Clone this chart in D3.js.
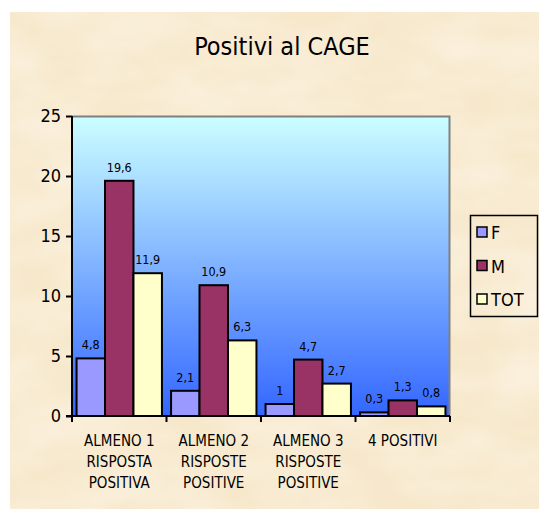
<!DOCTYPE html>
<html>
<head>
<meta charset="utf-8">
<script src="https://cdn.jsdelivr.net/npm/d3@7"></script>
<style>
  body { margin: 0; background: #fff; }
  svg text { font-family: "DejaVu Sans", Verdana, sans-serif; font-stretch: condensed; fill: #000; }
</style>
</head>
<body>
<div id="chart"></div>
<script>
// data
const categories = [
  ["ALMENO 1", "RISPOSTA", "POSITIVA"],
  ["ALMENO 2", "RISPOSTE", "POSITIVE"],
  ["ALMENO 3", "RISPOSTE", "POSITIVE"],
  ["4 POSITIVI"]
];
const seriesNames = ["F", "M", "TOT"];
const valuesF = [4.8, 2.1, 1, 0.3];
const valuesM = [19.6, 10.9, 4.7, 1.3];
const valuesTOT = [11.9, 6.3, 2.7, 0.8];
const yTicks = [0, 5, 10, 15, 20, 25];
const colors = ["#9999ff", "#993366", "#ffffcc"];

const allValues = [valuesF, valuesM, valuesTOT];
const W = 539, H = 509;
const margin = { top: 116, right: 89, bottom: 93, left: 72 };
const width = W - margin.left - margin.right;
const height = H - margin.top - margin.bottom;

const svg = d3.select("#chart").append("svg")
  .attr("width", W)
  .attr("height", H);

const defs = svg.append("defs");

// parchment-ish texture
const filt = defs.append("filter").attr("id", "paper").attr("x", 0).attr("y", 0).attr("width", 1).attr("height", 1);
filt.append("feTurbulence").attr("type", "fractalNoise").attr("baseFrequency", "0.012 0.025").attr("numOctaves", 3).attr("seed", 7).attr("result", "noise");
filt.append("feColorMatrix").attr("in", "noise").attr("type", "matrix")
  .attr("values", "0 0 0 0 1  0 0 0 0 0.97  0 0 0 0 0.9  0 0 0 0.7 -0.2")
  .attr("result", "tint");
filt.append("feComposite").attr("in", "tint").attr("in2", "SourceGraphic").attr("operator", "atop");

const grad = defs.append("linearGradient").attr("id", "plotbg")
  .attr("x1", 0).attr("y1", 0).attr("x2", 0).attr("y2", 1);
grad.append("stop").attr("offset", "0%").attr("stop-color", "#ccffff");
grad.append("stop").attr("offset", "100%").attr("stop-color", "#3366ff");

svg.append("rect")
  .attr("x", 10).attr("y", 12)
  .attr("width", W - 10).attr("height", H - 12)
  .attr("fill", "#f7e8cb")
  .attr("filter", "url(#paper)");

svg.append("text")
  .attr("x", 282).attr("y", 55)
  .attr("text-anchor", "middle")
  .style("font-size", "25px")
  .text("Positivi al CAGE");

const g = svg.append("g").attr("transform", `translate(${margin.left},${margin.top})`);

const x0 = d3.scaleBand().domain(d3.range(categories.length)).range([0, width]).padding(0);
const x1 = d3.scaleBand().domain(d3.range(seriesNames.length)).range([0, x0.bandwidth()])
  .paddingInner(0).paddingOuter(0.16);
const y = d3.scaleLinear().domain([0, 25]).range([height, 0]);

g.append("rect")
  .attr("width", width).attr("height", height)
  .attr("fill", "url(#plotbg)");
g.append("path")
  .attr("d", `M0,0.5H${width - 0.5}V${height}`)
  .attr("fill", "none").attr("stroke", "#808080").attr("stroke-width", 2);

const groups = g.selectAll(".grp")
  .data(categories)
  .join("g")
  .attr("transform", (d, i) => `translate(${x0(i)},0)`);

groups.selectAll("rect")
  .data((d, i) => allValues.map((vals, s) => ({ s, v: vals[i] })))
  .join("rect")
  .attr("x", d => x1(d.s))
  .attr("y", d => y(d.v))
  .attr("width", x1.bandwidth())
  .attr("height", d => height - y(d.v))
  .attr("fill", d => colors[d.s])
  .attr("stroke", "#000")
  .attr("stroke-width", 2);

groups.selectAll(".lbl")
  .data((d, i) => allValues.map((vals, s) => ({ s, v: vals[i] })))
  .join("text")
  .attr("class", "lbl")
  .attr("x", d => x1(d.s) + x1.bandwidth() / 2)
  .attr("y", d => y(d.v) - 9)
  .attr("text-anchor", "middle")
  .style("font-size", "12.5px")
  .text(d => String(d.v).replace(".", ","));

// y axis
const yAxis = g.append("g")
  .call(d3.axisLeft(y).tickValues(yTicks).tickSize(6).tickPadding(5));
yAxis.selectAll("path, line").attr("stroke", "#000").attr("stroke-width", 2);
yAxis.select(".domain").attr("d", `M0,0V${height}`);
yAxis.selectAll("text").style("font-size", "18px").attr("fill", "#000");

// x axis with ticks at group boundaries
const xb = g.append("g").attr("transform", `translate(0,${height})`);
xb.append("line").attr("x1", -6).attr("x2", width).attr("stroke", "#000").attr("stroke-width", 2);
xb.selectAll(".tk")
  .data(d3.range(categories.length + 1))
  .join("line")
  .attr("x1", i => i < categories.length ? x0(i) : width)
  .attr("x2", i => i < categories.length ? x0(i) : width)
  .attr("y1", 0).attr("y2", 6)
  .attr("stroke", "#000").attr("stroke-width", 2);

xb.selectAll(".cat")
  .data(categories)
  .join("text")
  .attr("text-anchor", "middle")
  .attr("transform", (d, i) => `translate(${x0(i) + x0.bandwidth() / 2},30)`)
  .style("font-size", "15px")
  .selectAll("tspan")
  .data(d => d)
  .join("tspan")
  .attr("x", 0)
  .attr("dy", (d, j) => j === 0 ? 0 : 21)
  .text(d => d);

// legend
const leg = svg.append("g").attr("transform", "translate(470,215)");
leg.append("rect").attr("x", 0.5).attr("y", 0.5).attr("width", 67).attr("height", 101)
  .attr("fill", "none").attr("stroke", "#000").attr("stroke-width", 1.5);
const items = leg.selectAll(".it")
  .data(seriesNames)
  .join("g")
  .attr("transform", (d, i) => `translate(7,${17 + i * 33.5})`);
items.append("rect")
  .attr("x", 0).attr("y", -5).attr("width", 10).attr("height", 10)
  .attr("fill", (d, i) => colors[i])
  .attr("stroke", "#000").attr("stroke-width", 1.5);
items.append("text")
  .attr("x", 14).attr("y", 7)
  .style("font-size", "18px")
  .text(d => d);
</script>
</body>
</html>
